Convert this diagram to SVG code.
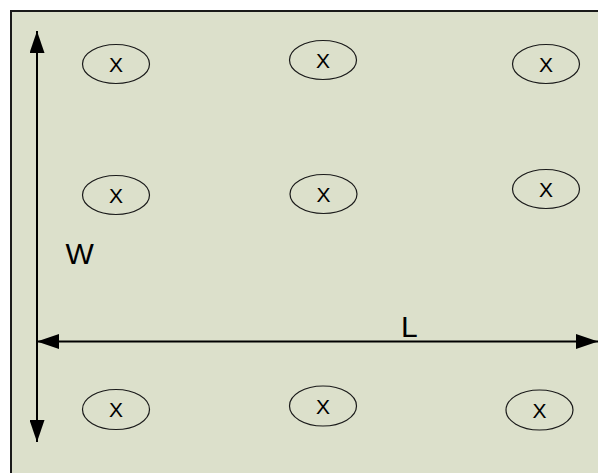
<svg xmlns="http://www.w3.org/2000/svg" width="598" height="473" viewBox="0 0 598 473">
  <style>
    .spot ellipse { fill: none; stroke: #1a1a1a; stroke-width: 1.2; }
    .spot text { font-family: "Liberation Sans", Arial, sans-serif; font-size: 21px; fill: #000; text-anchor: middle; }
    .dim { stroke: #000; stroke-width: 2; fill: none; }
    .lbl { font-family: "Liberation Sans", Arial, sans-serif; font-size: 30px; fill: #000; }
  </style>
  <defs>
    <marker id="head" viewBox="0 0 22 15" refX="22" refY="7.5" markerWidth="22" markerHeight="15" markerUnits="userSpaceOnUse" orient="auto">
      <path d="M0,0 L22,7.5 L0,15 Z" fill="#000"/>
    </marker>
  </defs>

  <!-- panel -->
  <rect x="0" y="0" width="598" height="473" fill="#ffffff"/>
  <rect x="11" y="11" width="600" height="480" fill="#dce0cb" stroke="#1a1a1a" stroke-width="2"/>

  <!-- spots -->
  <g id="spot-r1c1" class="spot"><ellipse cx="116" cy="64" rx="33.5" ry="19.5"/><text x="116" y="71.5">X</text></g>
  <g id="spot-r1c2" class="spot"><ellipse cx="323" cy="60" rx="33.5" ry="19.5"/><text x="323" y="67.5">X</text></g>
  <g id="spot-r1c3" class="spot"><ellipse cx="546" cy="64" rx="33.5" ry="19.5"/><text x="546" y="71.5">X</text></g>

  <g id="spot-r2c1" class="spot"><ellipse cx="116" cy="195" rx="33.5" ry="19.5"/><text x="116" y="202.5">X</text></g>
  <g id="spot-r2c2" class="spot"><ellipse cx="323.5" cy="194" rx="33.5" ry="19.5"/><text x="323.5" y="201.5">X</text></g>
  <g id="spot-r2c3" class="spot"><ellipse cx="546" cy="189" rx="33.5" ry="19.5"/><text x="546" y="196.5">X</text></g>

  <g id="spot-r3c1" class="spot"><ellipse cx="116" cy="409.5" rx="33.5" ry="20"/><text x="116" y="417">X</text></g>
  <g id="spot-r3c2" class="spot"><ellipse cx="323" cy="406" rx="33.5" ry="20"/><text x="323" y="413.5">X</text></g>
  <g id="spot-r3c3" class="spot"><ellipse cx="539.5" cy="410" rx="33.5" ry="20"/><text x="539.5" y="417.5">X</text></g>

  <!-- dimension arrows -->
  <g id="connectors">
    <line class="dim" x1="37" y1="340" x2="37" y2="31" marker-end="url(#head)"/>
    <line class="dim" x1="37" y1="340" x2="37" y2="442" marker-end="url(#head)"/>
    <line class="dim" x1="300" y1="341.5" x2="37" y2="341.5" marker-end="url(#head)"/>
    <line class="dim" x1="300" y1="341.5" x2="598" y2="341.5" marker-end="url(#head)"/>
  </g>

  <text id="label-w" class="lbl" x="65.5" y="263.5">W</text>
  <text id="label-l" class="lbl" x="401" y="336.5">L</text>
</svg>
